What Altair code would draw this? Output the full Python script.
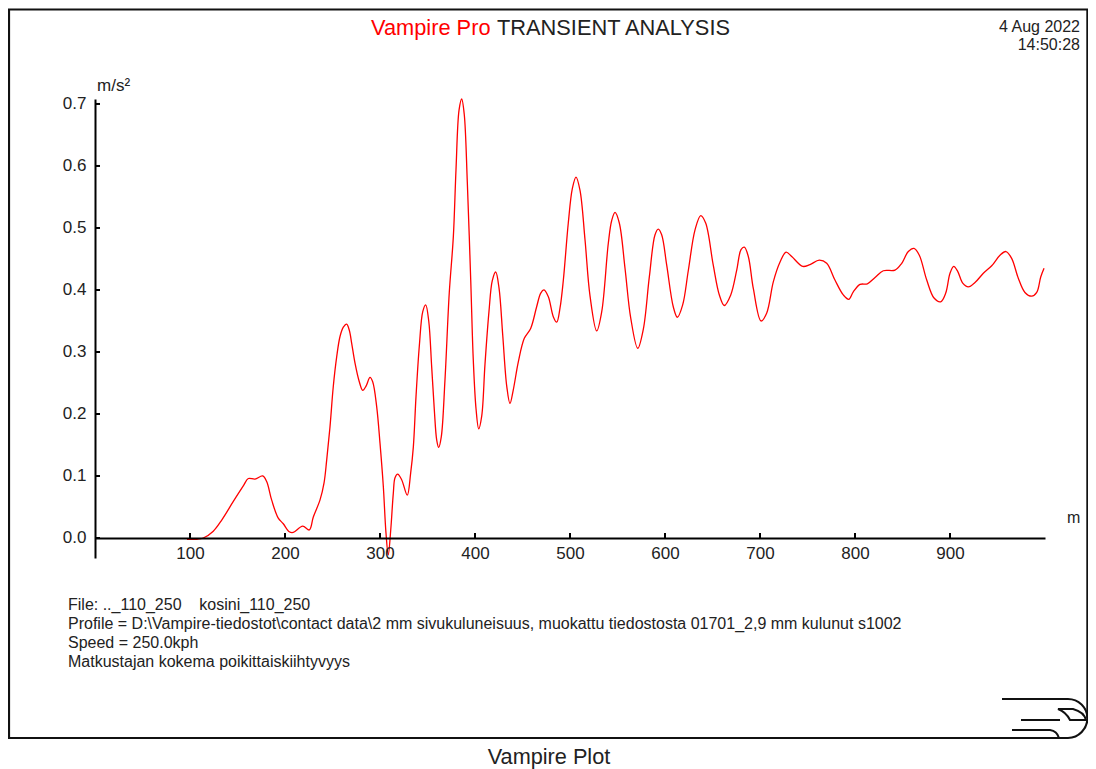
import altair as alt
import pandas as pd

FONT = "Liberation Sans"

dist = [96.8,107.4,114.0,124.5,133.4,145.6,156.1,161.4,168.4,176.5,180.7,186.0,192.9,198.2,204.5,208.7,218.6,225.6,229.8,236.8,
241.1,243.9,247.4,250.8,254.4,257.9,261.4,264.9,267.7,270.2,273.7,278.2,281.8,285.3,289.5,292.3,296.5,300.0,303.5,306.3,
308.7,311.3,314.0,315.8,318.6,322.8,328.7,332.3,335.1,337.9,341.4,345.0,348.1,351.3,354.4,357.2,359.7,361.8,364.5,368.4,
372.9,377.2,380.0,383.2,386.0,388.7,391.9,395.5,398.2,401.1,403.9,407.1,410.5,414.7,418.2,421.8,425.3,429.2,433.4,436.8,
440.3,445.6,451.9,458.6,464.9,469.2,472.6,477.2,482.4,486.0,489.5,493.0,498.2,502.4,506.3,510.5,515.8,521.1,528.1,533.4,
540.3,543.9,547.4,551.9,557.9,563.9,571.3,577.2,583.5,589.5,592.9,596.5,601.8,608.7,613.0,618.6,624.5,631.6,637.6,642.8,
650.8,657.2,662.4,669.2,675.5,680.0,683.5,687.7,693.0,701.1,707.1,714.0,721.1,727.4,733.4,745.0,752.6,762.4,770.2,778.9,
787.7,793.4,798.2,805.3,813.0,821.1,829.8,842.1,849.2,856.1,862.1,867.7,875.5,883.2,890.2,895.5,900.0,903.9,908.1,913.4,
919.3,926.3,935.1,943.9,952.6,958.9,964.9,971.9,978.9,986.0,991.3,995.5,999.0]
accel = [-0.002,-0.002,0.000,0.011,0.029,0.059,0.084,0.096,0.095,0.100,0.091,0.061,0.032,0.023,0.010,0.009,0.019,0.013,0.034,0.061,
0.089,0.126,0.180,0.244,0.292,0.325,0.340,0.345,0.335,0.314,0.282,0.252,0.238,0.245,0.259,0.252,0.212,0.153,0.083,0.008,
-0.027,0.013,0.072,0.097,0.103,0.094,0.069,0.105,0.147,0.228,0.310,0.365,0.376,0.350,0.276,0.206,0.158,0.146,0.163,0.255,
0.395,0.486,0.594,0.690,0.708,0.683,0.574,0.416,0.287,0.208,0.176,0.197,0.280,0.365,0.415,0.429,0.403,0.327,0.245,0.217,
0.239,0.284,0.322,0.338,0.373,0.395,0.400,0.389,0.357,0.348,0.371,0.416,0.508,0.563,0.582,0.561,0.481,0.390,0.334,0.365,
0.475,0.512,0.525,0.508,0.435,0.355,0.306,0.337,0.421,0.489,0.498,0.489,0.440,0.373,0.356,0.376,0.431,0.497,0.520,0.508,
0.440,0.392,0.375,0.392,0.432,0.465,0.469,0.454,0.402,0.350,0.363,0.413,0.445,0.461,0.454,0.438,0.441,0.448,0.443,0.416,
0.392,0.385,0.397,0.409,0.410,0.420,0.431,0.432,0.443,0.462,0.467,0.456,0.416,0.387,0.381,0.395,0.427,0.438,0.430,0.411,
0.405,0.412,0.427,0.439,0.456,0.462,0.451,0.419,0.396,0.390,0.396,0.421,0.435]

x_ticks = [100, 200, 300, 400, 500, 600, 700, 800, 900]
y_ticks = [0.0, 0.1, 0.2, 0.3, 0.4, 0.5, 0.6, 0.7]

info_lines = [
    "File: .._110_250\u00a0\u00a0\u00a0\u00a0kosini_110_250",
    "Profile = D:\\Vampire-tiedostot\\contact data\\2 mm sivukuluneisuus, muokattu tiedostosta 01701_2,9 mm kulunut s1002",
    "Speed = 250.0kph",
    "Matkustajan kokema poikittaiskiihtyvyys",
]

W, H = 1080, 761

X = alt.Scale(domain=[0, 1000], range=[87, 1037], nice=False, zero=False)
Y = alt.Scale(domain=[-0.03226, 0.708], range=[550, 91], nice=False, zero=False)
X_AXIS = alt.Axis(
    values=x_ticks, format="d", title=None, orient="bottom", offset=530 - H,
    grid=False, ticks=False, domainColor="black", domainWidth=2, labelPadding=7,
    labelFont=FONT, labelFontSize=17, labelColor="#222222", labelFlush=False,
    labelOverlap=False, labelAngle=0, zindex=1)
Y_AXIS = alt.Axis(
    values=y_ticks, format=".1f", title=None, orient="left", offset=-87,
    grid=False, ticks=False, domainColor="black", domainWidth=2, labelPadding=9,
    labelFont=FONT, labelFontSize=17, labelColor="#222222", labelOverlap=False, zindex=1)

curve = alt.Chart(pd.DataFrame({"x": dist, "y": accel})).mark_line(
    color="#ff0000", strokeWidth=1.3, interpolate="catmull-rom", clip=False
).encode(
    x=alt.X("x:Q", scale=X, axis=X_AXIS),
    y=alt.Y("y:Q", scale=Y, axis=Y_AXIS),
)

xt = alt.Chart(pd.DataFrame({"x": x_ticks})).mark_rule(color="black", strokeWidth=2).encode(
    x=alt.X("x:Q", scale=X, axis=X_AXIS), y=alt.value(525), y2=alt.value(530))
yt = alt.Chart(pd.DataFrame({"y": y_ticks})).mark_rule(color="black", strokeWidth=2).encode(
    y=alt.Y("y:Q", scale=Y, axis=Y_AXIS), x=alt.value(87), x2=alt.value(92))

# frame with rounded corner, and the logo inside that corner (chart-area pixels)
frame_path = "M1,1.5 H1079.4 V710 A19.5,20 0 0 1 1060,730 H1 Z"
logo_path = ("M994,691 H1060 A19.5,19.5 0 0 1 1079.4,710 "
             "M1050,701 H1065 Q1076,704 1078,712 H1062 Q1058,704 1050,701 Z "
             "M1013,712 H1052 M1004,722 H1042 Q1049,723 1051,730")


def shape(path, w):
    return alt.Chart(pd.DataFrame({"a": [0]})).mark_point(
        shape=path, size=4, stroke="#111111", strokeWidth=w, opacity=1, filled=False, clip=False
    ).encode(x=alt.value(0), y=alt.value(0))


def label(s, x, y, size, align="left", color="#222222"):
    return alt.Chart(pd.DataFrame({"a": [0]})).mark_text(
        font=FONT, fontSize=size, align=align, baseline="middle", color=color
    ).encode(x=alt.value(x), y=alt.value(y), text=alt.value(s))


texts = [
    label("Vampire Pro", 363, 20, 21.8, color="#ff0000"),
    label("TRANSIENT ANALYSIS", 489, 20, 21.8),
    label("4 Aug 2022", 1072, 19, 16, "right"),
    label("14:50:28", 1072, 37, 16, "right"),
    label("m/s²", 89, 78, 17),
    label("m", 1059, 510, 16),
    label("Vampire Plot", 541, 749, 21.7, "center"),
]
for line, y in zip(info_lines, [597, 616, 635, 654]):
    texts.append(label(line, 60, y, 16))

chart = alt.layer(curve, xt, yt, shape(frame_path, 2.2), shape(logo_path, 2), *texts).properties(
    width=W, height=H, padding=0, background="white",
    autosize=alt.AutoSizeParams(type="none"),
).configure_view(stroke=None)

chart.save("out.html", embed_options={"renderer": "svg", "actions": False})
